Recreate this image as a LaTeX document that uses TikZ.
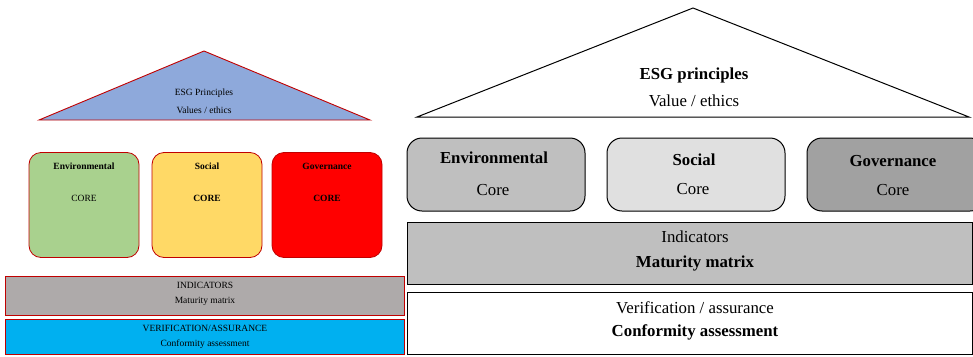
\documentclass[tikz,border=0pt]{standalone}
\usepackage{fontspec}
\setmainfont{Liberation Serif}
\usetikzlibrary{positioning}

\definecolor{roofblue}{HTML}{8EA9DB}
\definecolor{envgreen}{HTML}{A9D18E}
\definecolor{socyellow}{HTML}{FFD966}
\definecolor{govred}{HTML}{FF0000}
\definecolor{indgray}{HTML}{AEAAAA}
\definecolor{verblue}{HTML}{00B0F0}
\definecolor{edgered}{HTML}{C00000}

\begin{document}
\begin{tikzpicture}[
        x=1pt, y=-1pt,
        smalltxt/.style={font=\fontsize{9.5}{11}\selectfont, inner sep=0pt},
        smallbold/.style={font=\fontsize{9.5}{11}\selectfont\bfseries, inner sep=0pt},
        bigtxt/.style={font=\fontsize{16.8}{19}\selectfont, inner sep=0pt},
        bigbold/.style={font=\fontsize{16.8}{19}\selectfont\bfseries, inner sep=0pt},
        leftcore/.style={rectangle, draw=edgered, line width=0.8pt, rounded corners=12pt, minimum width=110pt, minimum height=105pt, inner sep=0pt},
        leftbar/.style={rectangle, draw=edgered, line width=0.8pt, minimum width=399pt, inner sep=0pt},
        rightcore/.style={rectangle, draw, line width=1pt, rounded corners=15pt, minimum width=178pt, minimum height=73pt, inner sep=0pt},
        rightbar/.style={rectangle, draw, line width=1pt, minimum width=565pt, minimum height=62pt, inner sep=0pt}
    ]
        \useasboundingbox (0,0) rectangle (973,356);

        % left roof
        \coordinate (ltop) at (204,51);
        \coordinate (lleft) at (39,120);
        \coordinate (lright) at (370,120);
        \draw[edgered, line width=0.9pt, fill=roofblue] (ltop) -- (lleft) -- (lright) -- cycle;
        \node[smalltxt] (lesg) at (204,93) {ESG Principles};
        \node[smalltxt] (lval) at (204,110) {Values / ethics};

        % left pillars
        \node[leftcore, fill=envgreen] (lenv) at (84,205) {};
        \node[leftcore, fill=socyellow] (lsoc) at (207,205) {};
        \node[leftcore, fill=govred] (lgov) at (327,205) {};
        \node[smallbold] (lenvt) at (84,166) {Environmental};
        \node[smallbold] (lsoct) at (207,166) {Social};
        \node[smallbold] (lgovt) at (327,166) {Governance};
        \node[smalltxt] (lenvc) at (84,198) {CORE};
        \node[smallbold] (lsocc) at (207,198) {CORE};
        \node[smallbold] (lgovc) at (327,198) {CORE};

        % left bars
        \node[leftbar, fill=indgray, minimum height=39pt] (lind) at (205,295.5) {};
        \node[smalltxt] (lindt) at (205,285) {INDICATORS};
        \node[smalltxt] (lmat) at (205,301) {Maturity matrix};
        \node[leftbar, fill=verblue, minimum height=35pt] (lver) at (205,337) {};
        \node[smalltxt] (lvert) at (205,328) {VERIFICATION/ASSURANCE};
        \node[smalltxt] (lconf) at (205,344) {Conformity assessment};

        % right roof
        \coordinate (rtop) at (693,8);
        \coordinate (rleft) at (417,117);
        \coordinate (rright) at (969,117);
        \draw[line width=1pt, fill=white] (rtop) -- (rleft) -- (rright) -- cycle;
        \node[bigbold] (resg) at (694,75) {ESG principles};
        \node[bigtxt] (rval) at (694,101) {Value / ethics};

        % right pillars
        \node[rightcore, fill=black!25] (renv) at (496,174.5) {};
        \node[rightcore, fill=black!12] (rsoc) at (696,174.5) {};
        \node[rightcore, fill=black!37] (rgov) at (896,174.5) {};
        \node[bigbold] (renvt) at (494,158) {Environmental};
        \node[bigbold] (rsoct) at (694,160) {Social};
        \node[bigbold] (rgovt) at (893,161) {Governance};
        \node[bigtxt] (renvc) at (493,190) {Core};
        \node[bigtxt] (rsocc) at (693,189) {Core};
        \node[bigtxt] (rgovc) at (893,190) {Core};

        % right bars
        \node[rightbar, fill=black!25] (rind) at (690,253) {};
        \node[bigtxt] (rindt) at (695,237) {Indicators};
        \node[bigbold] (rmat) at (695,263) {Maturity matrix};
        \node[rightbar, fill=white] (rver) at (690,323) {};
        \node[bigtxt] (rvert) at (695,308) {Verification / assurance};
        \node[bigbold] (rconf) at (695,332) {Conformity assessment};
    \end{tikzpicture}
\end{document}
